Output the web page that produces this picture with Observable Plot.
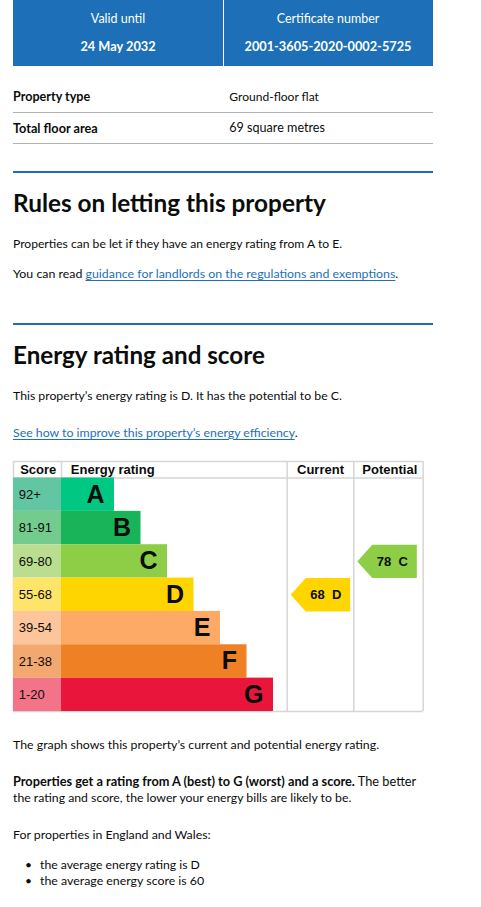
<!DOCTYPE html>
<html>
<head>
<meta charset="utf-8">
<script src="https://cdn.jsdelivr.net/npm/d3@7"></script>
<script src="https://cdn.jsdelivr.net/npm/@observablehq/plot@0.6"></script>
<style>
  html, body { margin: 0; padding: 0; background: #fff; }
  body { position: relative; width: 481px; height: 907px; overflow: hidden; font-family: Lato, "Noto Sans", sans-serif; color: #0b0c0c; }
  .t { position: absolute; white-space: nowrap; display: inline-block; font-size: 14px; line-height: 30px; }
  .b { font-weight: 700; }
  .w { color: #fff; }
  a { color: #1d70b8; text-decoration: underline; text-decoration-thickness: 1px; text-underline-offset: 2px; }
  .box { position: absolute; background: #1d70b8; }
  .hr { position: absolute; left: 13px; width: 420px; }
  #chart { position: absolute; left: 0; top: 455px; }
</style>
</head>
<body>
<div class="box" style="left:13px;top:0;width:209.7px;height:66px"></div>
<div class="box" style="left:223.7px;top:0;width:209.3px;height:66px"></div>
<div class="t w" data-x="118" data-cy="18.7" data-w="54.3" data-anchor="middle">Valid until</div>
<div class="t w b" data-x="118" data-cy="45" data-w="75.3" data-anchor="middle">24 May 2032</div>
<div class="t w" data-x="328" data-cy="18.7" data-w="102.7" data-anchor="middle">Certificate number</div>
<div class="t w b" data-x="328" data-cy="45" data-w="167" data-anchor="middle">2001-3605-2020-0002-5725</div>

<div class="t b" data-x="13" data-cy="96.5" data-w="77.3">Property type</div>
<div class="t" data-x="229.3" data-cy="96.5" data-w="89.7">Ground-floor flat</div>
<div class="hr" style="top:112px;height:1px;background:#b1b4b6"></div>
<div class="t b" data-x="13" data-cy="127.3" data-w="84.7">Total floor area</div>
<div class="t" data-x="229.3" data-cy="127.3" data-w="95.7">69 square metres</div>
<div class="hr" style="top:143px;height:1px;background:#b1b4b6"></div>

<div class="hr" style="top:171px;height:2px;background:#1d70b8"></div>
<div class="t b" data-x="13" data-cy="201.7" data-w="313">Rules on letting this property</div>
<div class="t" data-x="13" data-cy="243.5" data-w="329.3">Properties can be let if they have an energy rating from A to E.</div>
<div class="t" data-x="13" data-cy="273.7" data-w="385.3">You can read <a>guidance for landlords on the regulations and exemptions</a>.</div>

<div class="hr" style="top:323px;height:2px;background:#1d70b8"></div>
<div class="t b" data-x="13" data-cy="354" data-w="252">Energy rating and score</div>
<div class="t" data-x="13" data-cy="395.7" data-w="329.3">This property’s energy rating is D. It has the potential to be C.</div>
<div class="t" data-x="13" data-cy="432" data-w="284.7"><a>See how to improve this property’s energy efficiency</a>.</div>

<div id="chart"></div>

<div class="t" data-x="13" data-cy="744.7" data-w="366.3">The graph shows this property’s current and potential energy rating.</div>
<div class="t" data-x="13" data-cy="780.7" data-w="403.7"><b>Properties get a rating from A (best) to G (worst) and a score.</b> The better</div>
<div class="t" data-x="13" data-cy="797.5" data-w="338.7">the rating and score, the lower your energy bills are likely to be.</div>
<div class="t" data-x="13" data-cy="834.7" data-w="197.7">For properties in England and Wales:</div>
<div class="t" data-x="25" data-cy="864.7" style="font-size:12px">•</div>
<div class="t" data-x="40" data-cy="864.7" data-w="160">the average energy rating is D</div>
<div class="t" data-x="25" data-cy="880.8" style="font-size:12px">•</div>
<div class="t" data-x="40" data-cy="880.8" data-w="164.3">the average energy score is 60</div>

<script>
// ---- chart data ----
const bands = ["A", "B", "C", "D", "E", "F", "G"];
const scoreRanges = ["92+", "81-91", "69-80", "55-68", "39-54", "21-38", "1-20"];
const bandMinScores = [92, 81, 69, 55, 39, 21, 1];
const barLengths = [2, 3, 4, 5, 6, 7, 8];
const bandColors = ["#00c781", "#19b459", "#8dce46", "#ffd500", "#fcaa65", "#ef8023", "#e9153b"];
const scoreColors = ["#63c6a2", "#73cc8e", "#badd8f", "#ffe46a", "#fdc59b", "#f3a86f", "#f37389"];
const columnLabels = ["Score", "Energy rating", "Current", "Potential"];
const currentScore = 68;
const potentialScore = 78;

// ---- layout (pixels) ----
const L = { left: 13, barStart: 61, unit: 26.5, currentLeft: 286.7, potentialLeft: 353.3, right: 422.7,
            arrowTip: 3.5, arrowNeck: 15, arrowRight: 63, headerRows: 0.495 };
const X = px => (px - L.barStart) / L.unit;

const rows = bands.map((b, i) => ({ band: b, range: scoreRanges[i], len: barLengths[i],
  color: bandColors[i], scoreColor: scoreColors[i], i }));

function bandIndex(score) { return bandMinScores.findIndex(m => score >= m); }

function arrow(score, colLeft) {
  const r = bandIndex(score);
  const tip = X(colLeft + L.arrowTip), neck = X(colLeft + L.arrowTip + L.arrowNeck), right = X(colLeft + L.arrowRight);
  return {
    pts: [{x: tip, y: r + 0.5}, {x: neck, y: r}, {x: right, y: r}, {x: right, y: r + 1}, {x: neck, y: r + 1}],
    label: [{x: tip, y: r + 0.5, text: `${score}\u00a0\u00a0${bands[r]}`}],
    color: bandColors[r]
  };
}
const cur = arrow(currentScore, L.currentLeft);
const pot = arrow(potentialScore, L.potentialLeft);

const gridStroke = "#d6d6d6";
const hTop = -L.headerRows;
const chart = Plot.plot({
  width: 481, height: 260,
  marginLeft: L.left, marginRight: 481 - L.right, marginTop: 6, marginBottom: 4,
  x: { domain: [X(L.left), X(L.right)], axis: null },
  y: { domain: [hTop, bands.length], range: [6, 256], axis: null },
  color: { type: "identity" },
  style: { fontFamily: "'Liberation Sans', Arial, sans-serif", background: "transparent", overflow: "visible" },
  marks: [
    Plot.ruleY([hTop, 0, bands.length], { x1: () => X(L.left), x2: () => X(L.right), stroke: gridStroke, strokeWidth: 1.5 }),
    Plot.ruleX([X(L.left), X(L.currentLeft), X(L.potentialLeft), X(L.right)], { y1: () => hTop, y2: () => bands.length, stroke: gridStroke, strokeWidth: 1.5 }),
    Plot.ruleX([0], { y1: () => hTop, y2: () => 0, stroke: gridStroke, strokeWidth: 1.5 }),
    Plot.rect(rows, { x1: () => X(L.left), x2: () => 0, y1: "i", y2: d => d.i + 1, fill: "scoreColor" }),
    Plot.rect(rows, { x1: () => 0, x2: "len", y1: "i", y2: d => d.i + 1, fill: "color" }),
    Plot.text(rows, { x: () => X(L.left), y: d => d.i + 0.5, text: "range", textAnchor: "start", dx: 5.3, fontSize: 13, fill: "#0b0c0c" }),
    Plot.text(rows, { x: "len", y: d => d.i + 0.5, text: "band", textAnchor: "end", dx: -10, fontSize: 25, fontWeight: "bold", fill: "#0b0c0c" }),
    Plot.text([columnLabels[0]], { x: () => X(L.left), y: () => hTop / 2, text: d => d, textAnchor: "start", dx: 6.7, fontSize: 13, fontWeight: "bold", fill: "#0b0c0c" }),
    Plot.text([columnLabels[1]], { x: () => 0, y: () => hTop / 2, text: d => d, textAnchor: "start", dx: 9.3, fontSize: 13, fontWeight: "bold", fill: "#0b0c0c" }),
    Plot.text([columnLabels[2]], { x: () => X((L.currentLeft + L.potentialLeft) / 2), y: () => hTop / 2, text: d => d, textAnchor: "middle", fontSize: 13, fontWeight: "bold", fill: "#0b0c0c" }),
    Plot.text([columnLabels[3]], { x: () => X((L.potentialLeft + L.right) / 2) + 0.05, y: () => hTop / 2, text: d => d, textAnchor: "middle", fontSize: 13, fontWeight: "bold", fill: "#0b0c0c" }),
    Plot.line(cur.pts, { x: "x", y: "y", fill: cur.color, stroke: "none", curve: "linear" }),
    Plot.line(pot.pts, { x: "x", y: "y", fill: pot.color, stroke: "none", curve: "linear" }),
    Plot.text(cur.label, { x: "x", y: "y", text: "text", textAnchor: "start", dx: 19.5, fontSize: 13, fontWeight: "bold", fill: "#0b0c0c" }),
    Plot.text(pot.label, { x: "x", y: "y", text: "text", textAnchor: "start", dx: 19.5, fontSize: 13, fontWeight: "bold", fill: "#0b0c0c" })
  ]
});
document.getElementById("chart").appendChild(chart);

// ---- fit page text to measured widths ----
document.querySelectorAll(".t").forEach(el => {
  let fs = parseFloat(getComputedStyle(el).fontSize);
  const target = +el.dataset.w;
  if (target) {
    const w = el.getBoundingClientRect().width;
    fs = fs * target / w;
    el.style.fontSize = fs + "px";
  }
  const LH = 30;
  el.style.lineHeight = LH + "px";
  el.style.top = (+el.dataset.cy - LH / 2 + 0.05 * fs) + "px";
  el.style.left = el.dataset.x + "px";
  if (el.dataset.anchor === "middle") el.style.transform = "translateX(-50%)";
});
</script>
</body>
</html>
